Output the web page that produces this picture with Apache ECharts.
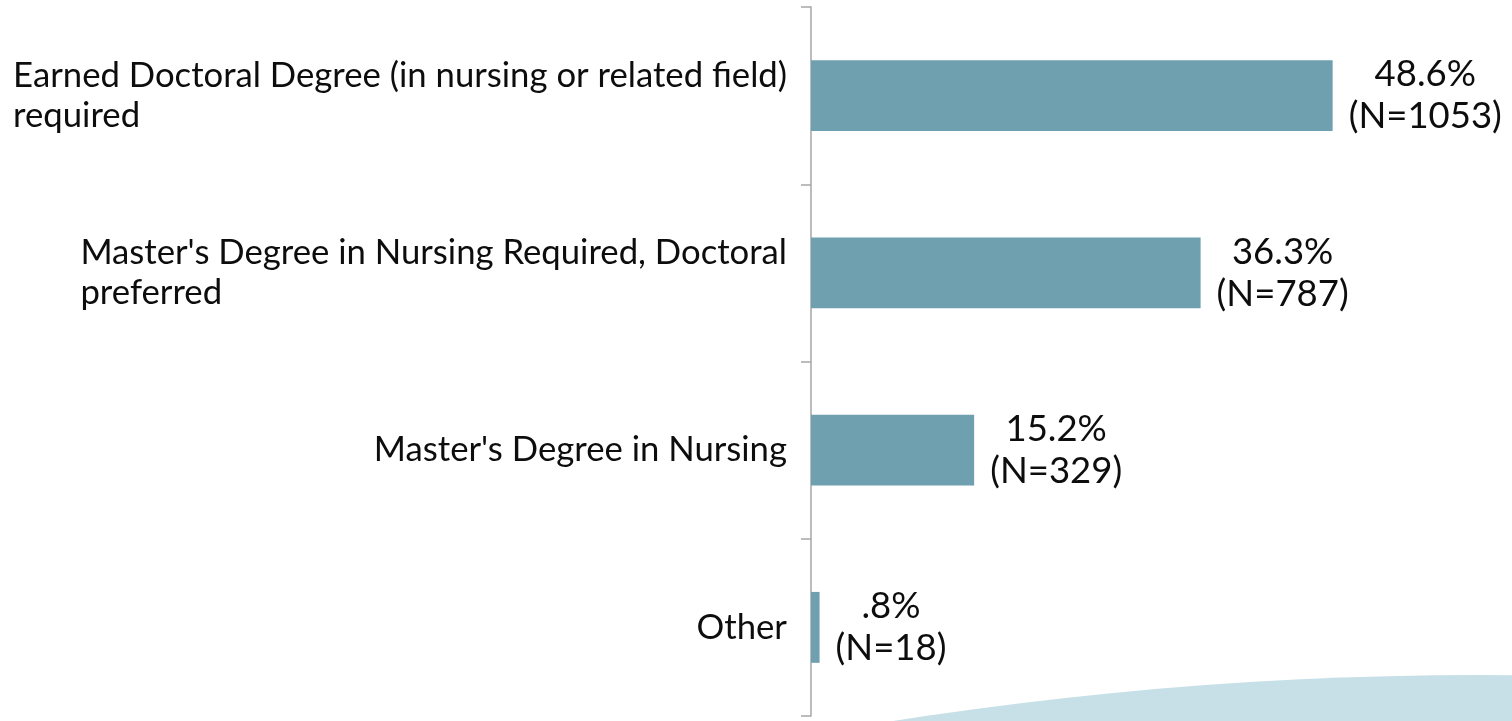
<!DOCTYPE html>
<html>
<head>
<meta charset="utf-8">
<script src="https://cdn.jsdelivr.net/npm/echarts@6/dist/echarts.min.js"></script>
<style>
  html, body { margin: 0; padding: 0; background: #fff; }
  #chart { width: 1512px; height: 721px; }
</style>
</head>
<body>
<div id="chart"></div>
<script>
// degree categories, top to bottom
const categories = [
  'Earned Doctoral Degree (in nursing or related field)\nrequired',
  "Master's Degree in Nursing Required, Doctoral\npreferred",
  "Master's Degree in Nursing",
  'Other'
]
const percents = [48.6, 36.3, 15.2, 0.8]
const counts = [1053, 787, 329, 18]

const fontName = 'Lato'

function pctText (v) {
  return String(v).replace(/^0\./, '.') + '%'
}

const chartDom = echarts.init(document.getElementById('chart'))

const option = {
  animation: false,
  grid: { left: 811, right: 57, top: 7, bottom: 5, containLabel: false },
  // light blue swoosh in the bottom right corner
  graphic: [{
    type: 'circle',
    z: -1,
    silent: true,
    shape: { cx: 1480, cy: 4443, r: 3768 },
    style: { fill: '#c7e0e8' }
  }],
  xAxis: {
    type: 'value',
    min: 0,
    max: 60,
    show: false
  },
  yAxis: {
    type: 'category',
    inverse: true,
    data: categories,
    axisLine: { show: true, lineStyle: { color: '#a6a6a6', width: 1.5 } },
    axisTick: { show: true, length: 10, lineStyle: { color: '#a6a6a6', width: 1.5 } },
    axisLabel: {
      margin: 24,
      formatter: function (v) {
        return v.split('\n').map(s => '{l|' + s + '}').join('\n')
      },
      rich: {
        l: { align: 'left', fontFamily: fontName, fontSize: 34.7, lineHeight: 40, color: '#0d0d0d' }
      }
    }
  },
  series: [{
    type: 'bar',
    data: percents,
    barCategoryGap: '60%',
    itemStyle: { color: '#6fa0b0' },
    label: {
      show: true,
      position: 'right',
      distance: 16,
      formatter: function (p) {
        return '{v|' + pctText(p.value) + '}\n{v|(N=' + counts[p.dataIndex] + ')}'
      },
      rich: {
        v: { align: 'center', fontFamily: fontName, fontSize: 36.5, lineHeight: 42, color: '#0d0d0d' }
      }
    }
  }]
}

chartDom.setOption(option)
</script>
</body>
</html>
